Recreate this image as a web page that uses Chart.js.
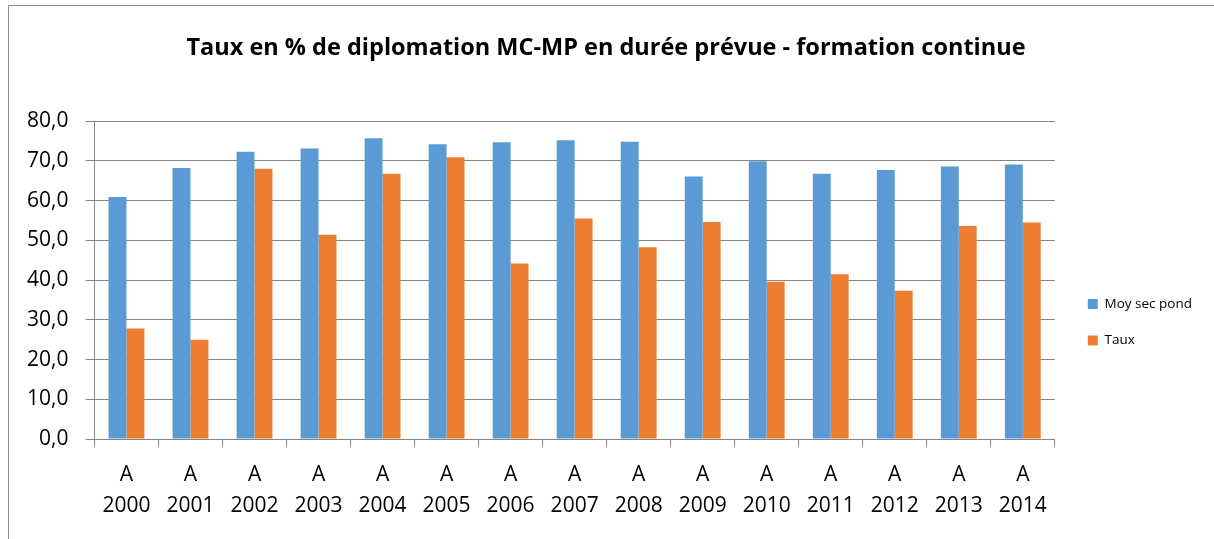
<!DOCTYPE html>
<html>
<head>
<meta charset="utf-8">
<script src="https://cdn.jsdelivr.net/npm/chart.js@4"></script>
<style>
  body { margin: 0; background: #fff; }
  #wrap { position: absolute; left: 0; top: 0; width: 1214px; height: 539px; }
  #frame { position: absolute; left: 8px; top: 5px; width: 1220px; height: 560px; border: 1px solid #8c8c8c; }
</style>
</head>
<body>
<div id="frame"></div>
<div id="wrap"><canvas id="diplome"></canvas></div>
<script>
const annees = ['2000','2001','2002','2003','2004','2005','2006','2007','2008','2009','2010','2011','2012','2013','2014'];
const moySecPond = [60.9, 68.2, 72.3, 73.1, 75.7, 74.2, 74.7, 75.2, 74.8, 66.1, 69.9, 66.8, 67.7, 68.6, 69.1];
const taux = [27.8, 25.0, 68.0, 51.4, 66.8, 70.9, 44.2, 55.5, 48.3, 54.6, 39.6, 41.5, 37.3, 53.6, 54.5];

const labels = annees.map(a => ['A', a]);

const ctx = document.getElementById('diplome').getContext('2d');

const chart = new Chart(ctx, {
    type: 'bar',
    data: {
        labels: labels,
        datasets: [{
            label: 'Moy sec pond',
            data: moySecPond,
            backgroundColor: '#5B9BD5',
            categoryPercentage: 0.56,
            barPercentage: 1.0
        }, {
            label: 'Taux',
            data: taux,
            backgroundColor: '#ED7D31',
            categoryPercentage: 0.56,
            barPercentage: 1.0
        }]
    },
    options: {
        responsive: true,
        maintainAspectRatio: false,
        animation: false,
        layout: { padding: { left: 10, right: 12, top: 10, bottom: 5 } },
        plugins: {
            title: {
                display: true,
                text: 'Taux en % de diplomation MC-MP en durée prévue - formation continue',
                color: '#000',
                font: { family: 'Open Sans', size: 23.5, weight: 'bold' },
                padding: { top: 24, bottom: 59 }
            },
            legend: {
                position: 'right',
                // empty title only pushes the two items down
                title: { display: true, text: ' ', padding: { top: 86, bottom: 0 } },
                labels: {
                    color: '#000',
                    font: { family: 'Open Sans', size: 13.5 },
                    boxWidth: 10,
                    boxHeight: 10,
                    padding: 23
                }
            },
            tooltip: { enabled: false }
        },
        scales: {
            x: {
                offset: true,
                grid: {
                    offset: true,
                    drawOnChartArea: false,
                    color: '#868686',
                    tickLength: 8
                },
                border: { color: '#868686', width: 1 },
                ticks: {
                    color: '#000',
                    font: { family: 'Open Sans', size: 21, lineHeight: 1.5 },
                    maxRotation: 0,
                    padding: 12
                }
            },
            y: {
                min: 0,
                max: 80,
                ticks: {
                    stepSize: 10,
                    color: '#000',
                    font: { family: 'Open Sans', size: 21 },
                    padding: 17,
                    callback: v => v.toFixed(1).replace('.', ',')
                },
                grid: { color: '#868686', tickLength: 9 },
                border: { color: '#868686' }
            },
            // blank spacer between plot and legend
            gap: {
                position: 'right',
                display: true,
                grid: { display: false },
                border: { display: false },
                ticks: { display: false },
                afterFit: s => { s.width = 10; }
            }
        }
    }
});
</script>
</body>
</html>
